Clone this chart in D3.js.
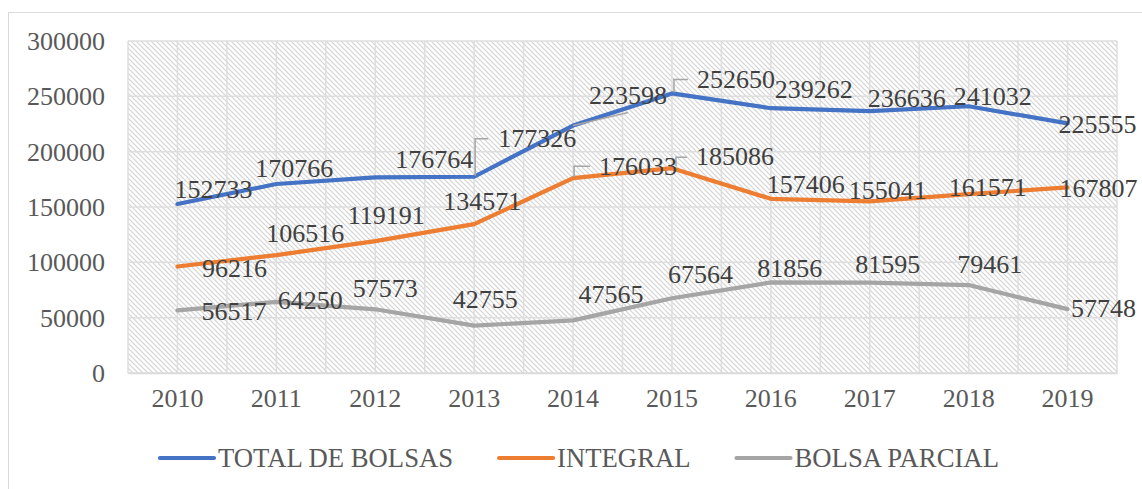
<!DOCTYPE html>
<html><head><meta charset="utf-8">
<script src="https://cdn.jsdelivr.net/npm/d3@7"></script>
<style>
body{margin:0;background:#fff}
svg{display:block}
</style>
</head><body>
<svg id="chart" width="1142" height="489"></svg>
<script>
// ---- data ----
const years = ["2010","2011","2012","2013","2014","2015","2016","2017","2018","2019"];
const totalBolsas = [152733,170766,176764,177326,223598,252650,239262,236636,241032,225555];
const integral = [96216,106516,119191,134571,176033,185086,157406,155041,161571,167807];
const bolsaParcial = [56517,64250,57573,42755,47565,67564,81856,81595,79461,57748];
const yTicks = [0,50000,100000,150000,200000,250000,300000];
const seriesNames = ["TOTAL DE BOLSAS","INTEGRAL","BOLSA PARCIAL"];

// ---- layout (label offsets from each point, px: [dx center, dy baseline]) ----
const labelOffsetsTotal = [[36,-6],[18,-7],[59,-9],[63,-30],[55,-22],[64,-5],[43,-10],[37,-4],[24,-1],[30,10]];
const labelOffsetsIntegral = [[57,10.5],[29,-13],[11,-17],[8,-14],[65,-3],[63,-3],[35,-6],[18,-2],[19,2],[31,10]];
const labelOffsetsParcial = [[56.5,9.5],[34,7],[10,-12],[11,-18],[38,-17],[28.5,-15],[19,-5],[18,-10],[21,-12],[36,8]];
const leadersTotal = {3:[[1,-1],[1,-38],[14,-38]], 4:[[0,0],[55,-13]], 5:[[2,-1],[2,-14],[16,-14]]};
const leadersIntegral = {4:[[1,-1],[1,-12],[17,-12]], 5:[[4,-2],[4,-11],[15,-11]]};

const colors = ["#4472C4","#ED7D31","#A5A5A5"];
const series = [
  {name:seriesNames[0], values:totalBolsas, color:colors[0], offs:labelOffsetsTotal, leaders:leadersTotal},
  {name:seriesNames[1], values:integral, color:colors[1], offs:labelOffsetsIntegral, leaders:leadersIntegral},
  {name:seriesNames[2], values:bolsaParcial, color:colors[2], offs:labelOffsetsParcial, leaders:{}}
];

const svg = d3.select("#chart");
const FS = 26;
const FSL = 26.7;
const FF = "Liberation Serif";

// chart area border
svg.append("rect").attr("x",8.5).attr("y",12.5).attr("width",1200).attr("height",600)
  .attr("fill","#fff").attr("stroke","#d9d9d9").attr("stroke-width",1);

// hatch pattern
const defs = svg.append("defs");
const pat = defs.append("pattern").attr("id","hatch").attr("patternUnits","userSpaceOnUse")
  .attr("width",5).attr("height",5);
pat.append("rect").attr("width",5).attr("height",5).attr("fill","#fff");
pat.append("path").attr("d","M-1,-1 L6,6 M-1,4 L1,6 M4,-1 L6,1")
  .attr("stroke","#d4d4d4").attr("stroke-width",1.2);

const x = d3.scaleBand().domain(years).range([128,1117]).padding(0);
const y = d3.scaleLinear().domain([0,300000]).range([373,41]);
const cx = d => x(d) + x.bandwidth()/2;

// plot background
svg.append("rect").attr("x",x.range()[0]).attr("y",y(300000))
  .attr("width",x.range()[1]-x.range()[0]).attr("height",y(0)-y(300000))
  .attr("fill","url(#hatch)");

// gridlines
const grid = svg.append("g").attr("stroke","#dedede").attr("stroke-width",1.5);
yTicks.forEach(t => grid.append("line").attr("x1",x.range()[0]).attr("x2",x.range()[1])
  .attr("y1",y(t)).attr("y2",y(t)));
const vx = [];
years.forEach(yr => { vx.push(x(yr)); vx.push(cx(yr)); });
vx.push(x.range()[1]);
vx.forEach(v => grid.append("line").attr("x1",v).attr("x2",v).attr("y1",y(300000)).attr("y2",y(0)));

// y axis labels
const yAxis = d3.axisLeft(y).tickValues(yTicks).tickSize(0).tickPadding(23).tickFormat(d3.format("d"));
const gy = svg.append("g").attr("transform",`translate(${x.range()[0]},0)`).call(yAxis);
gy.attr("font-family",FF).attr("font-size",FS);
gy.select(".domain").remove();
gy.selectAll("text").attr("fill","#595959").attr("dy","0.33em")
  .style("font-family",FF).style("font-size",FS+"px");

// x axis labels
const xAxis = d3.axisBottom(x).tickSize(0).tickPadding(14);
const gx = svg.append("g").attr("transform",`translate(0,${y(0)})`).call(xAxis);
gx.attr("font-family",FF).attr("font-size",FS);
gx.select(".domain").attr("stroke","#d9d9d9").attr("stroke-width",1.5);
gx.selectAll("text").attr("fill","#595959").attr("dy","0.77em")
  .style("font-family",FF).style("font-size",FS+"px");

// lines
const line = d3.line().x((d,i)=>cx(years[i])).y(d=>y(d));
series.forEach(s => {
  svg.append("path").datum(s.values).attr("d",line).attr("fill","none")
    .attr("stroke",s.color).attr("stroke-width",4.2)
    .attr("stroke-linejoin","round").attr("stroke-linecap","round");
});

// leader lines
series.forEach(s => {
  Object.keys(s.leaders).forEach(k => {
    const i = +k, px = cx(years[i]), py = y(s.values[i]);
    const pts = s.leaders[k].map(p => [px+p[0], py+p[1]]);
    svg.append("path").attr("d", d3.line()(pts)).attr("fill","none")
      .attr("stroke","#a6a6a6").attr("stroke-width",1.5);
  });
});

// data labels
series.forEach(s => {
  s.values.forEach((v,i) => {
    svg.append("text").attr("x",cx(years[i])+s.offs[i][0]).attr("y",y(v)+s.offs[i][1])
      .attr("text-anchor","middle").attr("fill","#404040")
      .style("font-family",FF).style("font-size",FS+"px").text(v);
  });
});

// legend
const lg = svg.append("g");
let lx = 160;
const ly = 458;
series.forEach(s => {
  lg.append("line").attr("x1",lx).attr("x2",lx+54).attr("y1",ly).attr("y2",ly)
    .attr("stroke",s.color).attr("stroke-width",4.2).attr("stroke-linecap","round");
  const t = lg.append("text").attr("x",lx+58).attr("y",ly+9)
    .attr("fill","#595959").style("font-family",FF).style("font-size",FSL+"px").text(s.name);
  lx += 58 + t.node().getComputedTextLength() + 46;
});
</script>
</body></html>
